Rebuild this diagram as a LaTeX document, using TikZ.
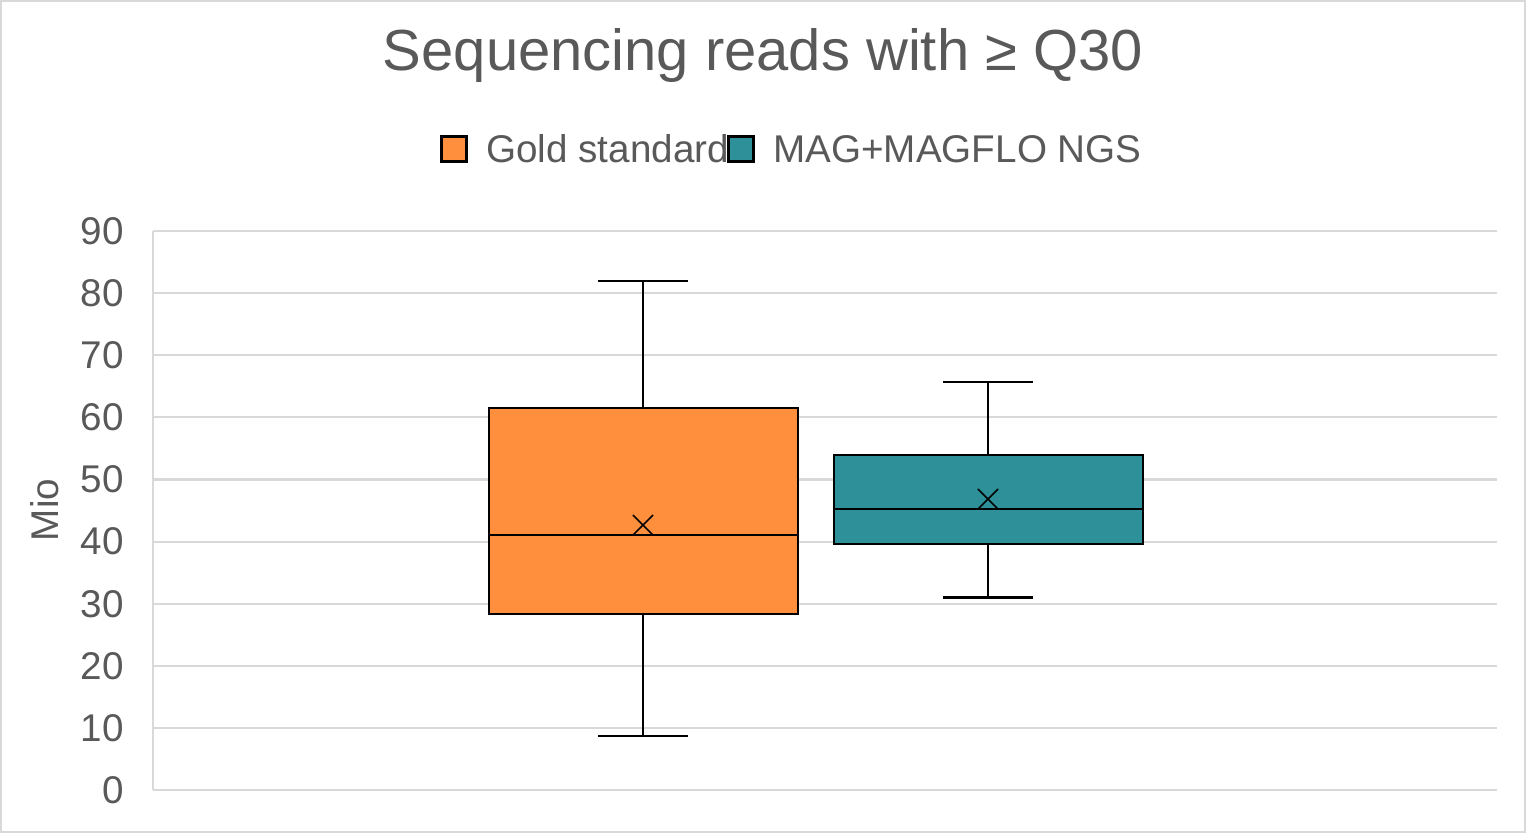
\documentclass[tikz,border=0pt]{standalone}
\usepackage{fontspec}
\setmainfont{Liberation Sans}
\definecolor{TextColor}{RGB}{89,89,89}
\definecolor{GridColor}{RGB}{217,217,217}
\definecolor{GoldColor}{RGB}{255,143,60}
\definecolor{MagColor}{RGB}{46,145,153}
\usetikzlibrary{positioning}
\tikzset{
  grid line/.style={GridColor, line width=1.2pt},
  box/.style={draw=black, line width=1.2pt},
  whisker/.style={black, line width=1.2pt},
  tick label/.style={TextColor, font=\fontsize{22}{26}\selectfont, anchor=east},
  legend key/.style={draw=black, line width=1.2pt, minimum size=0.5cm, inner sep=0pt}
}
\begin{document}
\begin{tikzpicture}[x=0.02cm, y=-0.02cm]
  \useasboundingbox (0,0) rectangle (1527,835);
  % Frame
  \draw[GridColor, line width=1pt] (1,1) rectangle (1525,832);

  % Grid and ticks
  \foreach \v in {0,10,...,90} {
    \draw[grid line] (153,{790-6.21*\v}) -- (1497,{790-6.21*\v});
    \node[tick label] at (130,{790-6.21*\v}) {\v};
  }
  \draw[grid line] (153,231) -- (153,790);

  % Title, axis label
  \node[TextColor, font=\fontsize{33}{38}\selectfont] (title) at (763,56) {Sequencing reads with ≥ Q30};
  \node[TextColor, font=\fontsize{22}{26}\selectfont, rotate=90] (ylabel) at (45,510) {Mio};

  % Legend
  \node[legend key, fill=GoldColor] (goldkey) at (454,149) {};
  \node[TextColor, font=\fontsize{22}{26}\selectfont, right=0.25cm of goldkey] (goldtext) {Gold standard};
  \node[legend key, fill=MagColor] (magkey) at (741,149) {};
  \node[TextColor, font=\fontsize{22}{26}\selectfont, right=0.25cm of magkey] (magtext) {MAG+MAGFLO NGS};

  % Gold standard
  \draw[whisker] (643,{790-6.21*82}) -- (643,{790-6.21*8.7});
  \draw[whisker] (598,{790-6.21*82}) -- (688,{790-6.21*82});
  \draw[whisker] (598,{790-6.21*8.7}) -- (688,{790-6.21*8.7});
  \draw[box, fill=GoldColor] (489,{790-6.21*28.3}) rectangle (798,{790-6.21*61.5});
  \draw[whisker] (489,{790-6.21*41}) -- (798,{790-6.21*41});
  \node[font=\fontsize{28}{30}\selectfont, inner sep=0pt] (goldmean) at (643,{790-6.21*42.6}) {$\times$};

  % MAG+MAGFLO NGS
  \draw[whisker] (988,{790-6.21*65.7}) -- (988,{790-6.21*31});
  \draw[whisker] (943,{790-6.21*65.7}) -- (1033,{790-6.21*65.7});
  \draw[whisker] (943,{790-6.21*31}) -- (1033,{790-6.21*31});
  \draw[box, fill=MagColor] (834,{790-6.21*39.6}) rectangle (1143,{790-6.21*54});
  \draw[whisker] (834,{790-6.21*45.3}) -- (1143,{790-6.21*45.3});
  \node[font=\fontsize{28}{30}\selectfont, inner sep=0pt] (magmean) at (988,{790-6.21*46.7}) {$\times$};
\end{tikzpicture}
\end{document}
